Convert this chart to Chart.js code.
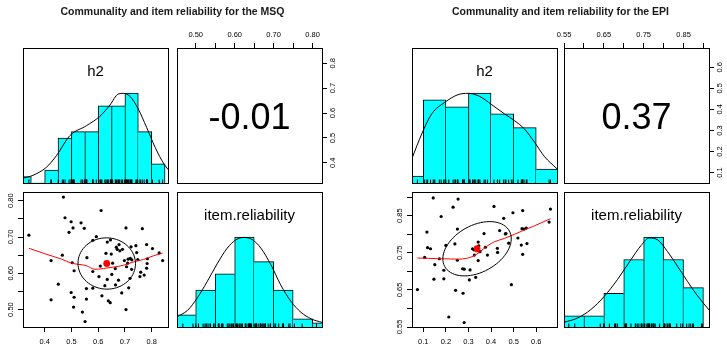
<!DOCTYPE html>
<html>
<head>
<meta charset="utf-8">
<script src="https://cdn.jsdelivr.net/npm/chart.js@4"></script>
<style>
  body { margin: 0; background: #fff; }
  #wrap { position: relative; width: 727px; height: 344px; overflow: hidden; font-family: "Liberation Sans", Arial, Helvetica, sans-serif; }
  canvas { position: absolute; left: 0; top: 0; }
  .txt { position: absolute; text-align: center; white-space: nowrap; color: #000; z-index: 2; }
</style>
</head>
<body>
<div id="wrap"></div>
<script>
// ---- MSQ data ----
const msqH2 = [0.470, 0.611, 0.476, 0.499, 0.536, 0.506, 0.548, 0.704, 0.765, 0.491,
  0.341, 0.593, 0.646, 0.580, 0.634, 0.678, 0.668, 0.671, 0.723, 0.741,
  0.781, 0.691, 0.803, 0.828, 0.466, 0.649, 0.558, 0.424, 0.720, 0.726,
  0.698, 0.710, 0.748, 0.784, 0.841, 0.503, 0.654, 0.608, 0.783, 0.706,
  0.664, 0.510, 0.580, 0.781, 0.759, 0.651, 0.603, 0.756, 0.634, 0.676,
  0.719, 0.451, 0.665, 0.625, 0.556, 0.580, 0.714, 0.499, 0.688, 0.614,
  0.510, 0.556, 0.424, 0.638, 0.645, 0.508, 0.704, 0.541, 0.551, 0.681,
  0.725, 0.629, 0.772, 0.744, 0.712];
const msqRel = [0.810, 0.773, 0.753, 0.742, 0.739, 0.725, 0.724, 0.725, 0.723, 0.713,
  0.705, 0.701, 0.692, 0.691, 0.686, 0.679, 0.672, 0.666, 0.673, 0.676,
  0.679, 0.666, 0.668, 0.656, 0.650, 0.653, 0.643, 0.635, 0.641, 0.637,
  0.635, 0.628, 0.638, 0.640, 0.635, 0.629, 0.628, 0.620, 0.627, 0.618,
  0.613, 0.607, 0.605, 0.614, 0.603, 0.597, 0.591, 0.591, 0.583, 0.581,
  0.586, 0.570, 0.568, 0.566, 0.558, 0.559, 0.560, 0.547, 0.546, 0.538,
  0.534, 0.529, 0.527, 0.524, 0.519, 0.507, 0.500, 0.493, 0.467, 0.662,
  0.611, 0.655, 0.595, 0.657, 0.639];

const msqH2Range = [0.319, 0.861];
const msqRelRange = [0.452, 0.824];
const msqH2Ticks = [0.4, 0.5, 0.6, 0.7, 0.8];
const msqH2TickLabels = ["0.4", "0.5", "0.6", "0.7", "0.8"];
const msqRelTicks = [0.50, 0.55, 0.60, 0.65, 0.70, 0.75, 0.80];
const msqRelTickLabels = ["0.50", "", "0.60", "", "0.70", "", "0.80"];

const msqH2Bins = [0.325, 0.375, 0.425, 0.475, 0.525, 0.575, 0.625, 0.675, 0.725, 0.775, 0.825];
const msqH2Counts = [1, 0, 2, 7, 8, 8, 12, 12, 14, 8, 3];
const msqRelBins = [0.475, 0.525, 0.575, 0.625, 0.675, 0.725, 0.775, 0.825];
const msqRelCounts = [3, 9, 13, 22, 16, 9, 2, 1];

const msqH2DensX = [0.316, 0.356, 0.406, 0.444, 0.494, 0.556, 0.606, 0.644, 0.675, 0.694, 0.719, 0.750, 0.781, 0.813, 0.846, 0.862];
const msqH2DensY = [0.72, 1.19, 2.43, 4.25, 7.36, 8.91, 10.36, 12.13, 13.84, 13.94, 13.47, 11.5, 8.65, 5.54, 2.95, 2.07];
const msqRelDensX = [0.451, 0.479, 0.504, 0.530, 0.556, 0.581, 0.603, 0.624, 0.646, 0.667, 0.693, 0.718, 0.744, 0.770, 0.796, 0.825];
const msqRelDensY = [2.44, 4.07, 7.1, 11.2, 15.6, 19.3, 21.3, 21.9, 21.3, 19.3, 15.2, 10.3, 6.3, 3.6, 2.0, 1.1];

const msqLoessX = [0.341, 0.400, 0.463, 0.500, 0.556, 0.588, 0.619, 0.656, 0.694, 0.731, 0.769, 0.806, 0.841];
const msqLoessY = [0.669, 0.654, 0.639, 0.628, 0.621, 0.611, 0.613, 0.617, 0.622, 0.631, 0.638, 0.648, 0.656];
const msqMean = [0.632, 0.627];
// centre x, centre y, half width, half height, r
const msqEllipse = [0.632, 0.627, 0.1075, 0.0707, -0.01];
const msqCorr = "-0.01";

// ---- EPI data ----
const epiH2 = [0.144, 0.254, 0.232, 0.413, 0.663, 0.540, 0.497, 0.179, 0.456, 0.657,
  0.251, 0.537, 0.556, 0.546, 0.116, 0.438, 0.369, 0.466, 0.463, 0.519,
  0.478, 0.200, 0.240, 0.343, 0.559, 0.534, 0.119, 0.132, 0.318, 0.324,
  0.428, 0.429, 0.346, 0.375, 0.351, 0.540, 0.384, 0.326, 0.106, 0.171,
  0.251, 0.343, 0.151, 0.274, 0.281, 0.307, 0.191, 0.332, 0.147, 0.191,
  0.304, 0.490, 0.074, 0.243, 0.276, 0.213, 0.281];
const epiRel = [0.898, 0.895, 0.873, 0.875, 0.868, 0.864, 0.858, 0.848, 0.843, 0.833,
  0.814, 0.815, 0.817, 0.814, 0.806, 0.810, 0.802, 0.802, 0.801, 0.790,
  0.776, 0.770, 0.774, 0.779, 0.775, 0.771, 0.764, 0.761, 0.761, 0.758,
  0.762, 0.751, 0.769, 0.765, 0.753, 0.746, 0.744, 0.744, 0.738, 0.734,
  0.730, 0.729, 0.718, 0.707, 0.706, 0.704, 0.703, 0.684, 0.679, 0.680,
  0.677, 0.664, 0.651, 0.649, 0.641, 0.577, 0.562];

const epiH2Range = [0.050, 0.692];
const epiRelRange = [0.550, 0.914];
const epiH2Ticks = [0.1, 0.2, 0.3, 0.4, 0.5, 0.6];
const epiH2TickLabels = ["0.1", "0.2", "0.3", "0.4", "0.5", "0.6"];
const epiRelTicks = [0.55, 0.60, 0.65, 0.70, 0.75, 0.80, 0.85, 0.90];
const epiRelTickLabels = ["0.55", "", "0.65", "", "0.75", "", "0.85", ""];

const epiH2Bins = [0.05, 0.15, 0.25, 0.35, 0.45, 0.55, 0.65];
const epiH2Counts = [1, 12, 11, 13, 10, 8, 2];
const epiRelBins = [0.575, 0.625, 0.675, 0.725, 0.775, 0.825, 0.875];
const epiRelCounts = [2, 2, 6, 12, 16, 12, 7];

const epiH2DensX = [0.050, 0.093, 0.137, 0.195, 0.254, 0.298, 0.350, 0.401, 0.460, 0.504, 0.548, 0.593, 0.637, 0.692];
const epiH2DensY = [3.56, 7.08, 9.97, 11.65, 12.76, 12.95, 12.5, 11.36, 9.97, 9.0, 7.8, 5.87, 3.8, 2.05];
const epiRelDensX = [0.550, 0.584, 0.617, 0.651, 0.684, 0.718, 0.743, 0.764, 0.785, 0.810, 0.835, 0.860, 0.885, 0.915];
const epiRelDensY = [0.82, 1.6, 3.08, 5.44, 8.41, 11.96, 14.45, 15.82, 15.5, 13.4, 10.8, 8.1, 5.56, 2.95];

const epiLoessX = [0.074, 0.122, 0.181, 0.254, 0.291, 0.321, 0.343, 0.365, 0.387, 0.416, 0.460, 0.504, 0.549, 0.593, 0.663];
const epiLoessY = [0.736, 0.735, 0.734, 0.733, 0.735, 0.741, 0.749, 0.760, 0.770, 0.780, 0.789, 0.800, 0.812, 0.823, 0.842];
const epiMean = [0.338, 0.761];
const epiEllipse = [0.338, 0.761, 0.1515, 0.0732, 0.37];
const epiCorr = "0.37";

// ---- drawing ----
const W = 727, H = 344, AX = 22;
const FONT = '"Liberation Sans", Arial, Helvetica, sans-serif';
const wrap = document.getElementById("wrap");

const boxPlugin = {
  id: "panelBox",
  afterDraw(chart) {
    const a = chart.chartArea;
    const ctx = chart.ctx;
    ctx.save();
    ctx.strokeStyle = "#000";
    ctx.lineWidth = 1;
    ctx.strokeRect(Math.round(a.left) + 0.5, Math.round(a.top) + 0.5,
      Math.round(a.right - a.left), Math.round(a.bottom - a.top));
    ctx.restore();
  }
};

// correlation ellipse, same construction as psych::draw.ellipse
const ellipsePlugin = {
  id: "ellipse",
  afterDatasetsDraw(chart, args, opts) {
    if (!opts || !opts.e) return;
    const [cx, cy, sx, sy, r] = opts.e;
    const xs = chart.scales.x, ys = chart.scales.y;
    const th = 1 / Math.sqrt(2);
    const ctx = chart.ctx;
    ctx.save();
    ctx.strokeStyle = "#000";
    ctx.lineWidth = 1;
    ctx.beginPath();
    for (let i = 0; i <= 72; i++) {
      const a = (i / 72) * Math.PI * 2;
      const c = Math.cos(a), s = Math.sin(a);
      const u = th * (c * Math.sqrt(1 + r) - s * Math.sqrt(1 - r));
      const v = th * (c * Math.sqrt(1 + r) + s * Math.sqrt(1 - r));
      const px = xs.getPixelForValue(cx + sx * u);
      const py = ys.getPixelForValue(cy + sy * v);
      if (i === 0) ctx.moveTo(px, py); else ctx.lineTo(px, py);
    }
    ctx.stroke();
    ctx.restore();
  }
};

function newCanvas() {
  const c = document.createElement("canvas");
  c.width = W;
  c.height = H;
  wrap.appendChild(c);
  return c;
}

function padFor(p, sides) {
  return {
    left: p.l - (sides.left ? AX : 0),
    right: W - p.r - (sides.right ? AX : 0),
    top: p.t - (sides.top ? AX : 0),
    bottom: H - p.b - (sides.bottom ? AX : 0)
  };
}

function axis(pos, range, ticks, labels, show, pad) {
  const vertical = pos === "left" || pos === "right";
  return {
    type: "linear", position: pos, min: range[0], max: range[1], bounds: "data",
    offset: false, display: show,
    grid: { drawOnChartArea: false, drawTicks: true, tickLength: 5, tickWidth: 1, tickColor: "#000", offset: false },
    border: { display: false },
    ticks: {
      autoSkip: false, padding: pad, color: "#000",
      font: { family: FONT, size: 7.5 },
      minRotation: vertical ? 90 : 0, maxRotation: vertical ? 90 : 0,
      crossAlign: vertical ? "center" : "near",
      callback: (v, i) => labels[i] || ""
    },
    afterBuildTicks: (s) => { s.ticks = ticks.map((v) => ({ value: v })); },
    afterFit: (s) => {
      if (!show) { s.width = 0; s.height = 0; return; }
      if (vertical) s.width = AX; else s.height = AX;
    }
  };
}

function baseOptions(panel, sides, scales, extra) {
  return {
    responsive: false, animation: false, events: [],
    layout: { padding: padFor(panel, sides) },
    scales: scales,
    plugins: Object.assign({ legend: { display: false }, tooltip: { enabled: false } }, extra || {})
  };
}

function histPanel(panel, xRange, xTicks, bins, counts, densX, densY, rug) {
  const yMax = Math.max(...counts) * 1.5;
  new Chart(newCanvas(), {
    type: "scatter",
    data: {
      datasets: [
        {
          type: "scatter", order: 1, clip: 0,
          data: rug.map((v) => ({ x: v, y: 0 })),
          pointStyle: "line", pointRotation: 90, pointRadius: 3.5,
          pointBorderColor: "#000", pointBorderWidth: 1
        },
        {
          type: "line", order: 2, clip: 0,
          data: densX.map((v, i) => ({ x: v, y: densY[i] })),
          borderColor: "#000", borderWidth: 1, pointRadius: 0,
          cubicInterpolationMode: "monotone"
        },
        {
          type: "bar", order: 3, clip: 0,
          data: bins.map((m, i) => ({ x: m, y: counts[i] })),
          backgroundColor: "#00FFFF", borderColor: "#000",
          barPercentage: 1, categoryPercentage: 1,
          borderWidth: (c) => {
            const i = c.dataIndex;
            const v = counts[i];
            const prev = i > 0 ? counts[i - 1] : -1;
            const next = i < counts.length - 1 ? counts[i + 1] : -1;
            return { top: 1, bottom: 0, left: v >= prev ? 1 : 0, right: v > next ? 1 : 0 };
          }
        }
      ]
    },
    options: baseOptions(panel, {}, {
      x: axis("bottom", xRange, xTicks, [], false, 0),
      y: { type: "linear", min: 0, max: yMax, bounds: "data", display: false }
    }),
    plugins: [boxPlugin]
  });
}

function corrPanel(panel, xRange, xTicks, xLabels, yRange, yTicks, yLabels) {
  new Chart(newCanvas(), {
    type: "scatter",
    data: { datasets: [] },
    options: baseOptions(panel, { top: true, right: true }, {
      x: axis("top", xRange, xTicks, xLabels, true, 3.5),
      y: axis("right", yRange, yTicks, yLabels, true, 1)
    }),
    plugins: [boxPlugin]
  });
}

function scatterPanel(panel, xRange, xTicks, xLabels, yRange, yTicks, yLabels, xs, ys, lx, ly, mean, ell) {
  new Chart(newCanvas(), {
    type: "scatter",
    data: {
      datasets: [
        {
          type: "scatter", order: 1,
          data: [{ x: mean[0], y: mean[1] }],
          pointRadius: 3.4, pointBackgroundColor: "#FF0000", pointBorderWidth: 0
        },
        {
          type: "line", order: 2, clip: 0,
          data: lx.map((v, i) => ({ x: v, y: ly[i] })),
          borderColor: "#FF0000", borderWidth: 1, pointRadius: 0,
          cubicInterpolationMode: "monotone"
        },
        {
          type: "scatter", order: 3,
          data: xs.map((v, i) => ({ x: v, y: ys[i] })),
          pointRadius: 1.6, pointBackgroundColor: "#000", pointBorderWidth: 0
        }
      ]
    },
    options: baseOptions(panel, { left: true, bottom: true }, {
      x: axis("bottom", xRange, xTicks, xLabels, true, 5),
      y: axis("left", yRange, yTicks, yLabels, true, 0)
    }, { ellipse: { e: ell } }),
    plugins: [boxPlugin, ellipsePlugin]
  });
}

function addText(str, cx, top, size, bold) {
  const d = document.createElement("div");
  d.className = "txt";
  d.textContent = str;
  d.style.left = (cx - 200) + "px";
  d.style.width = "400px";
  d.style.top = top + "px";
  d.style.fontSize = size + "px";
  d.style.lineHeight = size + "px";
  if (bold) { d.style.fontWeight = "bold"; d.style.color = "#1a1a1a"; }
  wrap.appendChild(d);
}

const rowTop = { t: 48, b: 183 };
const rowBottom = { t: 192, b: 327 };

function pairs(cols, title, h2, rel, h2Range, relRange, h2Ticks, h2Labels, relTicks, relLabels,
  h2Bins, h2Counts, relBins, relCounts, h2DX, h2DY, relDX, relDY, lx, ly, mean, ell, corr) {
  const p11 = { l: cols[0][0], r: cols[0][1], t: rowTop.t, b: rowTop.b };
  const p12 = { l: cols[1][0], r: cols[1][1], t: rowTop.t, b: rowTop.b };
  const p21 = { l: cols[0][0], r: cols[0][1], t: rowBottom.t, b: rowBottom.b };
  const p22 = { l: cols[1][0], r: cols[1][1], t: rowBottom.t, b: rowBottom.b };

  histPanel(p11, h2Range, h2Ticks, h2Bins, h2Counts, h2DX, h2DY, h2);
  corrPanel(p12, relRange, relTicks, relLabels, h2Range, h2Ticks, h2Labels);
  scatterPanel(p21, h2Range, h2Ticks, h2Labels, relRange, relTicks, relLabels, h2, rel, lx, ly, mean, ell);
  histPanel(p22, relRange, relTicks, relBins, relCounts, relDX, relDY, rel);

  const mid = (cols[0][0] + cols[1][1]) / 2;
  addText(title, mid, 6, 10.5, true);
  addText("h2", (p11.l + p11.r) / 2, 63, 15, false);
  addText("item.reliability", (p22.l + p22.r) / 2, 207, 15, false);
  addText(corr, (p12.l + p12.r) / 2, 99, 36, false);
}

pairs([[23, 168], [177, 322]], "Communality and item reliability for the MSQ",
  msqH2, msqRel, msqH2Range, msqRelRange, msqH2Ticks, msqH2TickLabels, msqRelTicks, msqRelTickLabels,
  msqH2Bins, msqH2Counts, msqRelBins, msqRelCounts, msqH2DensX, msqH2DensY, msqRelDensX, msqRelDensY,
  msqLoessX, msqLoessY, msqMean, msqEllipse, msqCorr);

pairs([[412, 557], [564, 709]], "Communality and item reliability for the EPI",
  epiH2, epiRel, epiH2Range, epiRelRange, epiH2Ticks, epiH2TickLabels, epiRelTicks, epiRelTickLabels,
  epiH2Bins, epiH2Counts, epiRelBins, epiRelCounts, epiH2DensX, epiH2DensY, epiRelDensX, epiRelDensY,
  epiLoessX, epiLoessY, epiMean, epiEllipse, epiCorr);
</script>
</body>
</html>
